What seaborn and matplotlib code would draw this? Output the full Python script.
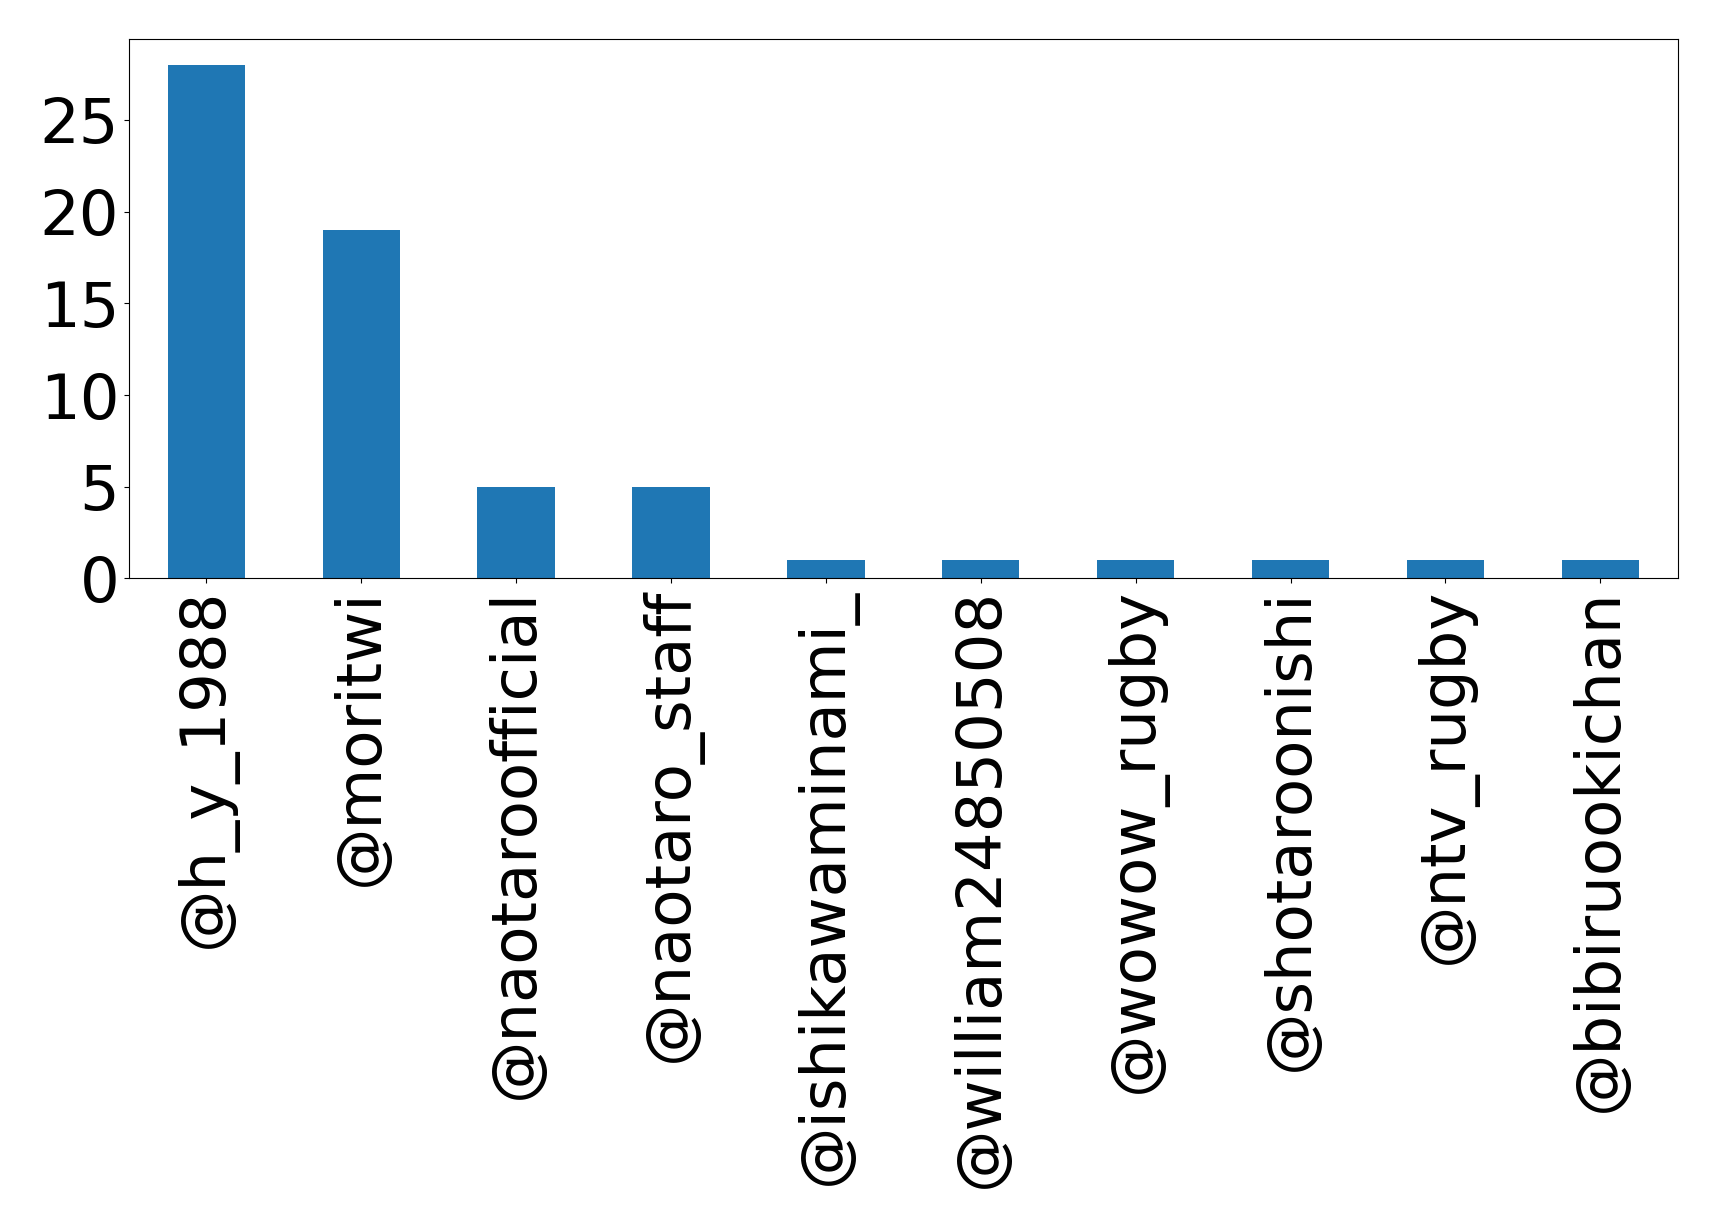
import pandas as pd
import matplotlib
matplotlib.use('Agg')
import matplotlib.pyplot as plt
from matplotlib.ticker import MultipleLocator
import seaborn as sns

# contas e numero de mencoes
contas = ['@h_y_1988', '@moritwi', '@naotaroofficial', '@naotaro_staff',
          '@ishikawaminami_', '@william24850508', '@wowow_rugby',
          '@shotaroonishi', '@ntv_rugby', '@bibiruookichan']
contagens = [28, 19, 5, 5, 1, 1, 1, 1, 1, 1]

df = pd.DataFrame({'conta': contas, 'n': contagens})

fig, ax = plt.subplots(figsize=(17.19, 12.28), dpi=100)
sns.barplot(data=df, x='conta', y='n', color='#1f77b4', saturation=1,
            width=0.5, ax=ax)
ax.set_xlabel('')
ax.set_ylabel('')
ax.set_xlim(-0.5, len(contas) - 0.5)
ax.set_ylim(0, max(contagens) * 1.05)
ax.yaxis.set_major_locator(MultipleLocator(5))
ax.tick_params(axis='x', labelrotation=90, labelsize=45)
ax.tick_params(axis='y', labelsize=45)
fig.subplots_adjust(left=0.075, right=0.976, top=0.968, bottom=0.529)
fig.savefig('out.png', dpi=100)
